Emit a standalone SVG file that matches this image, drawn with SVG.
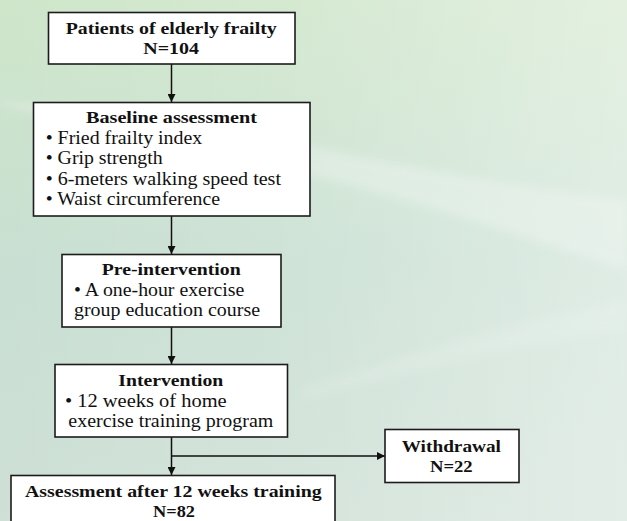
<svg xmlns="http://www.w3.org/2000/svg" width="627" height="521" viewBox="0 0 627 521">
<defs>
<linearGradient id="bgv" x1="0" y1="0" x2="0" y2="1">
<stop offset="0" stop-color="#cfe6ca"/>
<stop offset="0.5" stop-color="#c8dfd2"/>
<stop offset="1" stop-color="#cfe0d6"/>
</linearGradient>
<linearGradient id="bgh" x1="0" y1="0" x2="1" y2="0">
<stop offset="0" stop-color="#ffffff" stop-opacity="0"/>
<stop offset="0.45" stop-color="#ffffff" stop-opacity="0.12"/>
<stop offset="1" stop-color="#ffffff" stop-opacity="0.42"/>
</linearGradient>
<filter id="soft" x="-10%" y="-20%" width="120%" height="140%"><feGaussianBlur stdDeviation="5"/></filter>
<marker id="ah" viewBox="0 0 10 10" refX="10" refY="5" markerWidth="8" markerHeight="8" markerUnits="userSpaceOnUse" orient="auto">
<path d="M0,0 L10,5 L0,10 z" fill="#111"/>
</marker>
<style>
.box{fill:#fff;stroke:#1c1c1c;stroke-width:1.6}
.hd{font-weight:bold;font-size:17.5px;fill:#111}
.tx{font-size:18px;fill:#111}
.ln{stroke:#111;stroke-width:1.5;fill:none}
</style>
</defs>
<rect width="627" height="521" fill="url(#bgv)"/>
<rect width="627" height="521" fill="url(#bgh)"/>
<path d="M0,105 C120,130 300,170 420,205 C500,228 580,255 627,270 L627,200 C520,190 380,160 250,135 C150,118 60,105 0,100 z" fill="#ffffff" opacity="0.25" filter="url(#soft)"/>
<path d="M300,390 C420,350 520,320 627,300 L627,330 C520,345 420,370 300,400 z" fill="#ffffff" opacity="0.12" filter="url(#soft)"/>

<g id="connectors">
<line class="ln" x1="171.5" y1="64" x2="171.5" y2="102" marker-end="url(#ah)"/>
<line class="ln" x1="171.5" y1="216" x2="171.5" y2="254" marker-end="url(#ah)"/>
<line class="ln" x1="171.5" y1="327" x2="171.5" y2="364" marker-end="url(#ah)"/>
<line class="ln" x1="171.5" y1="437" x2="171.5" y2="475" marker-end="url(#ah)"/>
<line class="ln" x1="171.5" y1="456" x2="385" y2="456" marker-end="url(#ah)"/>
</g>

<g font-family="'Liberation Serif', 'Times New Roman', 'DejaVu Serif', serif">
<g id="n1">
<rect class="box" x="48.5" y="12.5" width="246.5" height="51.5"/>
<text class="hd" x="65.7" y="34" textLength="211" lengthAdjust="spacingAndGlyphs">Patients of elderly frailty</text>
<text class="hd" x="143.3" y="54" textLength="55.7" lengthAdjust="spacingAndGlyphs">N=104</text>
</g>

<g id="n2">
<rect class="box" x="33.5" y="102.5" width="276.5" height="113.5"/>
<text class="hd" x="86" y="123.3" textLength="171" lengthAdjust="spacingAndGlyphs">Baseline assessment</text>
<text class="tx" x="45.7" y="144.3" textLength="156.6" lengthAdjust="spacingAndGlyphs">• Fried frailty index</text>
<text class="tx" x="45.7" y="164.3" textLength="117" lengthAdjust="spacingAndGlyphs">• Grip strength</text>
<text class="tx" x="45.7" y="184.5" textLength="235.3" lengthAdjust="spacingAndGlyphs">• 6-meters walking speed test</text>
<text class="tx" x="45.7" y="204.5" textLength="174.3" lengthAdjust="spacingAndGlyphs">• Waist circumference</text>
</g>

<g id="n3">
<rect class="box" x="62" y="254.5" width="219" height="72.5"/>
<text class="hd" x="101.7" y="275" textLength="139" lengthAdjust="spacingAndGlyphs">Pre-intervention</text>
<text class="tx" x="74" y="295.5" textLength="170.3" lengthAdjust="spacingAndGlyphs">• A one-hour exercise</text>
<text class="tx" x="74" y="316.3" textLength="186" lengthAdjust="spacingAndGlyphs">group education course</text>
</g>

<g id="n4">
<rect class="box" x="55" y="364.5" width="232.5" height="72.5"/>
<text class="hd" x="118.3" y="386" textLength="105" lengthAdjust="spacingAndGlyphs">Intervention</text>
<text class="tx" x="65" y="406.7" textLength="161.7" lengthAdjust="spacingAndGlyphs">• 12 weeks of home</text>
<text class="tx" x="68.3" y="426.7" textLength="205" lengthAdjust="spacingAndGlyphs">exercise training program</text>
</g>

<g id="n5">
<rect class="box" x="385" y="429.5" width="134" height="53"/>
<text class="hd" x="401.7" y="451.7" textLength="99.3" lengthAdjust="spacingAndGlyphs">Withdrawal</text>
<text class="hd" x="430" y="471.7" textLength="42.7" lengthAdjust="spacingAndGlyphs">N=22</text>
</g>

<g id="n6">
<rect class="box" x="11" y="475.5" width="324" height="60"/>
<text class="hd" x="25" y="496.7" textLength="296.7" lengthAdjust="spacingAndGlyphs">Assessment after 12 weeks training</text>
<text class="hd" x="153" y="516.7" textLength="42" lengthAdjust="spacingAndGlyphs">N=82</text>
</g>
</g>
</svg>
